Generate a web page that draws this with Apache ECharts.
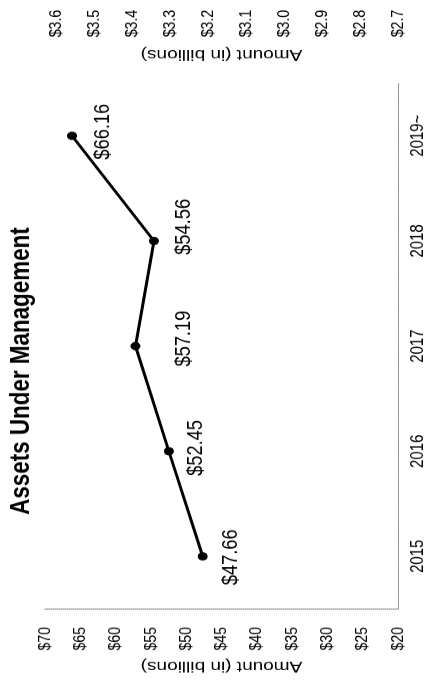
<!DOCTYPE html>
<html>
<head>
<meta charset="utf-8">
<script src="https://cdn.jsdelivr.net/npm/echarts@6/dist/echarts.min.js"></script>
<style>
  html, body { margin: 0; padding: 0; width: 431px; height: 685px; overflow: hidden; background: #fff; }
  /* landscape chart, condensed horizontally, then turned a quarter turn counter-clockwise */
  #chart {
    position: absolute; left: 0; top: 0;
    width: 825.3px; height: 431px;
    transform-origin: 0 0;
    transform: translateY(685px) rotate(-90deg) scaleX(0.83);
  }
</style>
</head>
<body>
<div id="chart"></div>
<script>
// Assets under management, in billions of dollars
const years = ['2015', '2016', '2017', '2018', '2019~'];
const aumBillions = [47.66, 52.45, 57.19, 54.56, 66.16];

// left axis scale
const leftMin = 20, leftMax = 70, leftStep = 5;
// right axis scale
const rightMin = 2.7, rightMax = 3.63, rightStep = 0.1;

// small nudges for the value labels [dx, dy]
const labelNudges = [[-1, 7], [4, 6], [9, 27], [17, 9], [5, 10]];

const FONT = "'Liberation Sans', Arial, sans-serif";

const chart = echarts.init(document.getElementById('chart'), null, { renderer: 'canvas' });

chart.setOption({
  animation: false,
  backgroundColor: '#fff',
  title: {
    text: 'Assets Under Management',
    left: 205,
    top: 8,
    padding: 0,
    textStyle: { fontFamily: FONT, fontWeight: 'bold', fontSize: 27, color: '#000' }
  },
  grid: { left: 91.6, right: 100, top: 45, bottom: 33, containLabel: false, outerBoundsMode: 'none' },
  xAxis: {
    type: 'category',
    data: years,
    boundaryGap: true,
    axisLine: { show: true, lineStyle: { color: '#888', width: 1, type: 'dotted' } },
    axisTick: { show: false },
    splitLine: { show: false },
    axisLabel: { margin: 11, fontFamily: FONT, fontSize: 18, color: '#000' }
  },
  yAxis: [
    {
      type: 'value',
      position: 'left',
      min: leftMin, max: leftMax, interval: leftStep,
      name: 'Amount (in billions)',
      nameLocation: 'middle',
      nameRotate: 90,
      nameGap: 59,
      nameMoveOverlap: false,
      nameTextStyle: { fontFamily: FONT, fontSize: 19, color: '#000' },
      axisLine: { show: true, lineStyle: { color: '#555', width: 1, type: 'dotted' } },
      axisTick: { show: false },
      splitLine: { show: false },
      axisLabel: { margin: 21.7, fontFamily: FONT, fontSize: 17, color: '#000',
                   formatter: v => '$' + v }
    },
    {
      type: 'value',
      position: 'right',
      min: rightMin, max: rightMax, interval: rightStep,
      name: 'Amount (in billions)',
      nameLocation: 'middle',
      nameRotate: 90,
      nameGap: 25,
      nameMoveOverlap: false,
      nameTextStyle: { fontFamily: FONT, fontSize: 19, color: '#000' },
      axisLine: { show: false },
      axisTick: { show: false },
      splitLine: { show: false },
      axisLabel: { margin: 55.4, fontFamily: FONT, fontSize: 17, color: '#000',
                   showMaxLabel: false,
                   formatter: v => '$' + v.toFixed(1) }
    }
  ],
  series: [{
    type: 'line',
    yAxisIndex: 0,
    data: aumBillions.map((v, i) => ({
      value: v,
      label: { offset: labelNudges[i] }
    })),
    symbol: 'circle',
    symbolSize: 10,
    lineStyle: { color: '#000', width: 3 },
    itemStyle: { color: '#000' },
    label: {
      show: true,
      position: 'bottom',
      fontFamily: FONT,
      fontSize: 22,
      color: '#000',
      formatter: p => '$' + p.value.toFixed(2)
    }
  }]
});
</script>
</body>
</html>
